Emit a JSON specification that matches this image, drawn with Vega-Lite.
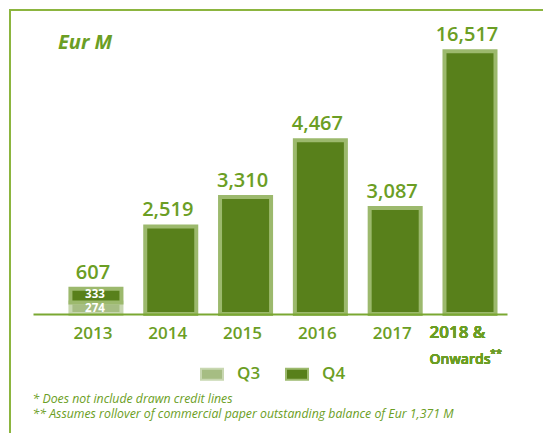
{
  "$schema": "https://vega.github.io/schema/vega-lite/v6.json",
  "width": 540,
  "height": 430,
  "autosize": "none",
  "padding": {"left": 10, "top": 10, "right": 0, "bottom": 0},
  "background": "white",
  "title": {"text": "Eur M", "anchor": "start", "dx": 48, "offset": -59, "baseline": "alphabetic", "fontSize": 20, "fontStyle": "italic", "fontWeight": "bold", "color": "#6b9e24", "font": "Open Sans"},
  "data": {"values": [
    {"year": "2013", "quarter": "Q3", "value": 274},
    {"year": "2013", "quarter": "Q4", "value": 333},
    {"year": "2014", "quarter": "Q4", "value": 2519},
    {"year": "2015", "quarter": "Q4", "value": 3310},
    {"year": "2016", "quarter": "Q4", "value": 4467},
    {"year": "2017", "quarter": "Q4", "value": 3087},
    {"year": "2018 &", "quarter": "Q4", "value": 16517}
  ]},
  "encoding": {
    "x": {
      "field": "year", "type": "nominal", "sort": null,
      "scale": {"range": [23, 497], "paddingInner": 0.318, "paddingOuter": 0.327, "align": 0.765},
      "axis": {
        "offset": -126, "zindex": 1,
        "domainColor": "#7aa832", "domainWidth": 2, "ticks": false,
        "labelAngle": 0, "labelFontSize": 17, "labelFontWeight": 600, "labelColor": "#6b9e24", "labelPadding": 11, "labelOffset": -3,
        "labelExpr": "datum.value == '2018 &' ? '' : datum.value",
        "title": ["*  Does not include drawn credit lines", "** Assumes rollover of commercial paper outstanding balance of Eur 1,371 M"],
        "titleX": 22, "titleY": 88, "titleAlign": "left", "titleAnchor": "start", "titleBaseline": "alphabetic",
        "titleFontSize": 12.3, "titleFontStyle": "italic", "titleFontWeight": "normal", "titleColor": "#6b9e24", "titleLineHeight": 15.5
      }
    }
  },
  "layer": [
    {
      "mark": {"type": "bar", "strokeWidth": 4},
      "encoding": {
        "y": {"field": "value", "type": "quantitative", "stack": "zero",
          "scale": {"domain": [0, 607, 3087, 4467, 16517], "range": [304, 278.7, 198, 130.3, 41.3], "nice": false, "zero": false},
          "axis": null},
        "fill": {"field": "quarter", "type": "nominal",
          "scale": {"domain": ["Q3", "Q4"], "range": ["#a6bd83", "#58801b"]},
          "legend": {"title": null, "orient": "none", "legendX": 190, "legendY": 352, "direction": "horizontal", "symbolType": "M-1,-0.5H1V0.5H-1Z", "symbolSize": 484, "symbolStrokeWidth": 2, "labelFontSize": 17, "labelFontWeight": 600, "labelColor": "#6b9e24", "labelOffset": 13, "columnPadding": 21}},
        "stroke": {"field": "quarter", "type": "nominal",
          "scale": {"domain": ["Q3", "Q4"], "range": ["#c8d7b1", "#9cb96d"]},
          "legend": {"title": null, "orient": "none", "legendX": 190, "legendY": 352, "direction": "horizontal", "symbolType": "M-1,-0.5H1V0.5H-1Z", "symbolSize": 484, "symbolStrokeWidth": 2, "labelFontSize": 17, "labelFontWeight": 600, "labelColor": "#6b9e24", "labelOffset": 13, "columnPadding": 21}},
        "order": {"field": "quarter", "sort": "ascending"}
      }
    },
    {
      "transform": [{"filter": "datum.year == '2013'"}],
      "mark": {"type": "text", "color": "white", "baseline": "top", "dy": 0, "dx": -1, "fontSize": 11.5, "fontWeight": "bold"},
      "encoding": {
        "y": {"field": "value", "type": "quantitative", "stack": "zero"},
        "detail": {"field": "quarter"},
        "order": {"field": "quarter", "sort": "ascending"},
        "text": {"field": "value", "type": "quantitative"}
      }
    },
    {
      "mark": {"type": "text", "baseline": "alphabetic", "dy": -10, "dx": -3, "fontSize": 20, "fontWeight": 600, "color": "#6b9e24"},
      "encoding": {
        "y": {"aggregate": "sum", "field": "value", "type": "quantitative"},
        "text": {"aggregate": "sum", "field": "value", "type": "quantitative", "format": ","}
      }
    },
    {
      "mark": {"type": "text", "baseline": "top", "dy": 11, "dx": -12.5, "fontSize": 17, "fontWeight": 600, "color": "#6b9e24"},
      "encoding": {"x": {"datum": "2018 &"}, "y": {"datum": 0}, "text": {"value": "2018 &"}}
    },
    {
      "mark": {"type": "text", "baseline": "alphabetic", "dy": 50, "dx": -10, "fontSize": 14, "fontWeight": 600, "color": "#6b9e24"},
      "encoding": {"x": {"datum": "2018 &"}, "y": {"datum": 0}, "text": {"value": "Onwards"}}
    },
    {
      "mark": {"type": "text", "baseline": "alphabetic", "align": "left", "dy": 43, "dx": 20, "fontSize": 11, "fontWeight": 600, "color": "#6b9e24"},
      "encoding": {"x": {"datum": "2018 &"}, "y": {"datum": 0}, "text": {"value": "**"}}
    }
  ],
  "config": {
    "font": "Open Sans",
    "view": {"stroke": "#8cb53f", "strokeWidth": 2}
  }
}
